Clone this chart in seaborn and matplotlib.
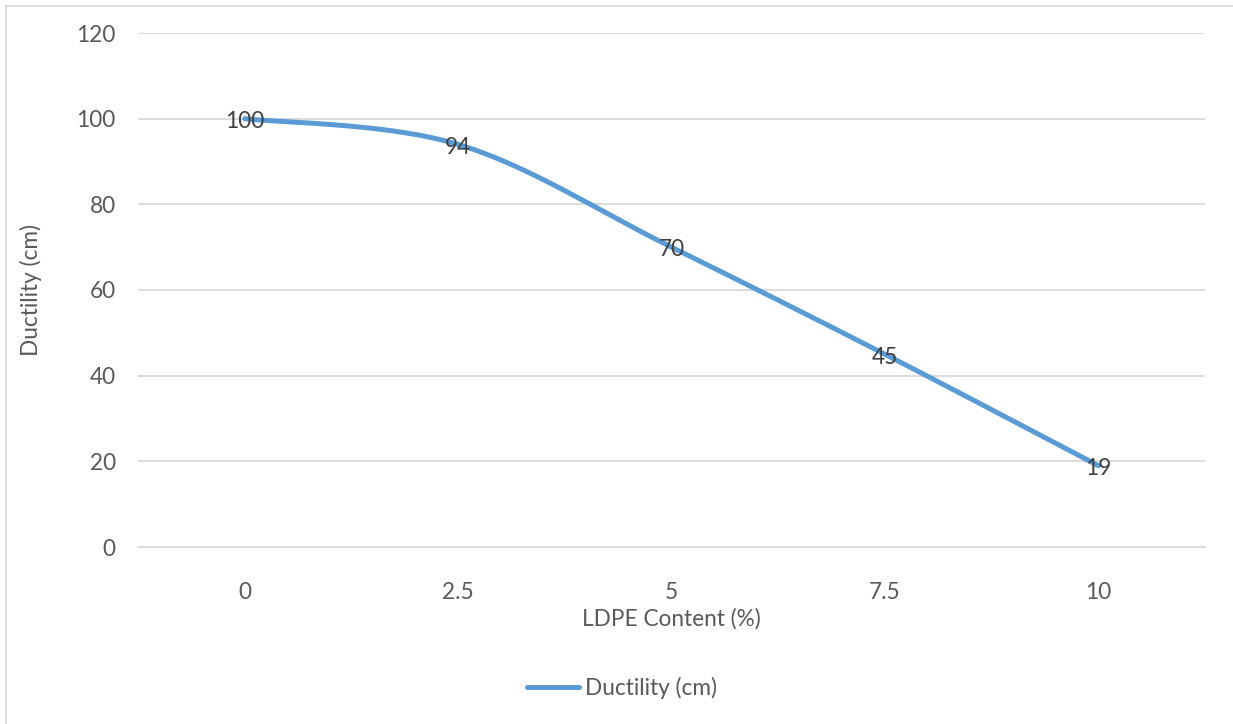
import numpy as np
import pandas as pd
import matplotlib
matplotlib.use("Agg")
import matplotlib.pyplot as plt
from matplotlib.lines import Line2D
import seaborn as sns

# Chart data
ldpe_content = ["0", "2.5", "5", "7.5", "10"]
ductility = [100, 94, 70, 45, 19]
series_name = "Ductility (cm)"
y_ticks = [0, 20, 40, 60, 80, 100, 120]

LINE_COLOR = "#5B9BD5"
GRID_COLOR = "#D9D9D9"
TEXT_COLOR = "#595959"
LABEL_COLOR = "#404040"
FONT_SIZE = 16.3
LINE_WIDTH = 3.6

sns.set_theme(style="white")
plt.rcParams["font.family"] = ["Lato", "DejaVu Sans"]


def smooth_curve(xs, ys, steps=40):
    """Bezier smoothing through every point (Catmull-Rom style control points)."""
    xs = np.asarray(xs, dtype=float)
    ys = np.asarray(ys, dtype=float)
    n = len(xs)
    out_x, out_y = [], []
    for i in range(n - 1):
        i0 = max(i - 1, 0)
        i3 = min(i + 2, n - 1)
        p0 = np.array([xs[i0], ys[i0]])
        p1 = np.array([xs[i], ys[i]])
        p2 = np.array([xs[i + 1], ys[i + 1]])
        p3 = np.array([xs[i3], ys[i3]])
        c1 = p1 + (p2 - p0) / 6.0
        c2 = p2 - (p3 - p1) / 6.0
        t = np.linspace(0, 1, steps, endpoint=(i == n - 2))[:, None]
        pts = ((1 - t) ** 3) * p1 + 3 * ((1 - t) ** 2) * t * c1 + 3 * (1 - t) * t ** 2 * c2 + t ** 3 * p2
        out_x.extend(pts[:, 0])
        out_y.extend(pts[:, 1])
    return np.array(out_x), np.array(out_y)


positions = np.arange(len(ldpe_content))
sx, sy = smooth_curve(positions, ductility)
curve = pd.DataFrame({"pos": sx, "value": sy})

fig = plt.figure(figsize=(12.33, 7.24), dpi=100)
ax = fig.add_axes([138 / 1233, 1 - 547 / 724, (1205 - 138) / 1233, (547 - 33) / 724])

sns.lineplot(data=curve, x="pos", y="value", ax=ax, color=LINE_COLOR,
             linewidth=LINE_WIDTH, sort=False, estimator=None, legend=False,
             solid_capstyle="round", zorder=3)

ax.set_xlim(-0.5, len(ldpe_content) - 0.5)
ax.set_ylim(0, 120)
ax.set_xticks(positions)
ax.set_xticklabels(ldpe_content)
ax.set_yticks(y_ticks)
ax.set_yticklabels([str(v) for v in y_ticks])
ax.tick_params(axis="both", length=0, labelsize=FONT_SIZE, colors=TEXT_COLOR)
ax.tick_params(axis="x", pad=25)
ax.tick_params(axis="y", pad=16)

ax.grid(axis="y", color=GRID_COLOR, linewidth=1.3)
ax.grid(axis="x", visible=False)
for side in ["top", "right", "left"]:
    ax.spines[side].set_visible(False)
ax.spines["bottom"].set_color(GRID_COLOR)
ax.spines["bottom"].set_linewidth(1.3)

ax.set_xlabel("LDPE Content (%)", fontsize=FONT_SIZE, color=TEXT_COLOR, labelpad=3.5)
ax.set_ylabel(series_name, fontsize=FONT_SIZE, color=TEXT_COLOR, labelpad=24.5)

# Value labels centred on each point
for p, v in zip(positions, ductility):
    ax.annotate(str(v), (p, v), xytext=(0, -2), textcoords="offset points",
                ha="center", va="center", fontsize=FONT_SIZE,
                color=LABEL_COLOR, zorder=4)

# Legend at the bottom centre
handle = Line2D([0], [0], color=LINE_COLOR, linewidth=LINE_WIDTH, solid_capstyle="round")
fig.legend([handle], [series_name], loc="center", bbox_to_anchor=(622 / 1233, 1 - 688 / 724),
           frameon=False, fontsize=FONT_SIZE, handlelength=2.3, handletextpad=0.25,
           labelcolor=TEXT_COLOR)

# Chart area border
fig.add_artist(Line2D([5.5 / 1233, 5.5 / 1233], [0, 1 - 5.5 / 724], color="#D9D9D9", linewidth=1.3))
fig.add_artist(Line2D([5.5 / 1233, 1], [1 - 5.5 / 724, 1 - 5.5 / 724], color="#D9D9D9", linewidth=1.3))

fig.savefig("out.png", dpi=100, facecolor="white")
